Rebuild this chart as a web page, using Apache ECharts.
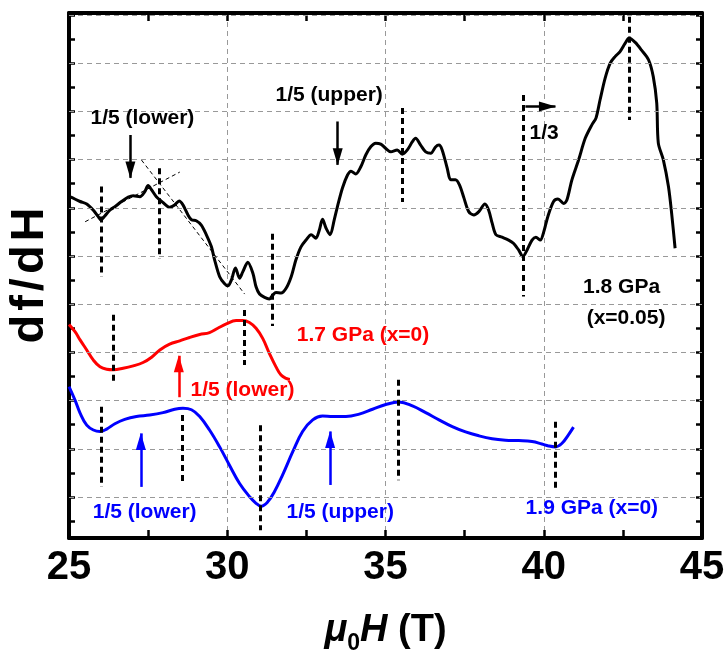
<!DOCTYPE html>
<html><head><meta charset="utf-8">
<script src="https://cdn.jsdelivr.net/npm/echarts@6/dist/echarts.min.js"></script>
<style>html,body{margin:0;padding:0;background:#fff}#c{width:727px;height:653px}</style>
</head><body><div id="c"></div>
<script>
// ---- axes ----
const X_MIN = 25, X_MAX = 45, X_INTERVAL = 5;
const Y_MIN = -0.85, Y_MAX = 10.04;
const Y_GRID = [0,1,2,3,4,5,6,7,8,9,10];
const Y_TICKS = [-0.5,0,0.5,1,1.5,2,2.5,3,3.5,4,4.5,5,5.5,6,6.5,7,7.5,8,8.5,9,9.5,10];

// ---- 1.8 GPa (x=0.05), black ----
const BLACK_X = [25.00,25.06,25.35,25.56,25.77,25.92,26.01,26.13,26.29,26.45,26.66,26.87,27.03,27.24,27.39,27.50,27.61,27.76,27.97,28.18,28.34,28.48,28.60,28.76,28.87,29.02,29.18,29.34,29.50,29.60,29.76,29.91,30.02,30.13,30.26,30.39,30.49,30.65,30.81,30.91,31.02,31.18,31.33,31.44,31.54,31.70,31.86,32.02,32.17,32.33,32.49,32.65,32.80,32.91,33.01,33.12,33.25,33.38,33.48,33.64,33.80,33.91,34.06,34.22,34.38,34.54,34.69,34.85,35.01,35.17,35.37,35.53,35.69,35.85,35.95,36.11,36.27,36.43,36.58,36.69,36.79,36.95,37.06,37.21,37.34,37.48,37.63,37.79,37.95,38.14,38.26,38.37,38.49,38.68,38.89,39.05,39.21,39.34,39.47,39.63,39.75,39.89,40.00,40.13,40.31,40.45,40.63,40.73,40.89,41.10,41.31,41.52,41.65,41.78,41.94,42.10,42.26,42.41,42.57,42.70,42.89,43.09,43.31,43.46,43.57,43.62,43.78,43.94,44.04,44.15];
const BLACK_Y = [6.23,6.22,6.13,6.08,5.95,5.82,5.75,5.83,5.95,6.02,6.13,6.22,6.25,6.23,6.33,6.46,6.37,6.23,6.11,6.01,6.06,6.14,6.06,5.85,5.75,5.73,5.64,5.44,5.19,4.92,4.57,4.43,4.38,4.50,4.75,4.54,4.67,4.87,4.64,4.36,4.21,4.14,4.11,4.19,4.24,4.23,4.33,4.57,4.92,5.19,5.33,5.44,5.37,5.54,5.76,5.58,5.44,5.75,6.02,6.41,6.68,6.76,6.70,6.85,7.10,7.27,7.34,7.32,7.23,7.16,7.20,7.11,7.20,7.37,7.44,7.30,7.16,7.13,7.26,7.30,7.20,6.82,6.58,6.58,6.47,6.20,5.92,5.85,5.92,6.08,5.95,5.68,5.44,5.39,5.33,5.26,5.12,4.99,5.12,5.33,5.39,5.33,5.50,5.82,6.13,6.18,6.09,6.16,6.58,6.99,7.44,7.72,7.86,8.24,8.69,9.00,9.14,9.24,9.41,9.52,9.43,9.27,9.07,8.72,8.17,7.34,6.99,6.44,5.89,5.16];

// ---- 1.7 GPa (x=0), red ----
const RED_X = [25.00,25.19,25.35,25.56,25.77,25.98,26.19,26.40,26.71,27.03,27.34,27.61,27.87,28.18,28.50,28.81,29.13,29.44,29.70,29.97,30.28,30.49,30.70,30.91,31.12,31.33,31.54,31.70,31.86,31.98];
const RED_Y = [3.58,3.43,3.26,3.05,2.84,2.70,2.65,2.64,2.67,2.72,2.79,2.90,3.05,3.17,3.24,3.31,3.37,3.41,3.50,3.59,3.66,3.66,3.62,3.50,3.29,2.98,2.70,2.53,2.46,2.44];

// ---- 1.9 GPa (x=0), blue ----
const BLUE_X = [25.00,25.19,25.35,25.56,25.77,25.98,26.19,26.45,26.76,27.13,27.55,27.97,28.34,28.60,28.87,29.13,29.44,29.76,30.07,30.39,30.70,30.91,31.07,31.28,31.49,31.75,32.07,32.38,32.70,33.01,33.33,33.75,34.17,34.59,35.01,35.43,35.85,36.27,36.69,37.11,37.53,37.95,38.37,38.79,39.21,39.63,39.94,40.15,40.37,40.57,40.78,40.94];
const BLUE_Y = [2.29,2.01,1.74,1.49,1.39,1.36,1.41,1.52,1.61,1.67,1.70,1.75,1.82,1.84,1.81,1.67,1.39,1.04,0.66,0.28,0.01,-0.13,-0.19,-0.10,0.11,0.46,0.94,1.36,1.60,1.68,1.67,1.67,1.72,1.82,1.92,1.97,1.89,1.75,1.60,1.46,1.35,1.27,1.21,1.18,1.17,1.15,1.10,1.06,1.04,1.11,1.29,1.45];

// ---- vertical dashed markers ----
const MARK_X  = [26.03,27.85,31.42,35.53,39.34,42.71,26.40,30.55,26.03,28.58,31.04,35.41,40.37];
const MARK_Y0 = [6.44,6.82,5.46,8.07,8.34,9.96,3.78,3.88,1.87,1.70,1.49,2.43,1.56];
const MARK_Y1 = [4.57,4.95,3.55,6.12,4.16,7.82,2.36,2.74,0.21,0.28,-0.69,0.35,0.15];

// ---- thin dashed guide lines (1/5 lower) ----
const GUIDE_X0 = [25.51,27.29], GUIDE_Y0 = [5.71,6.99];
const GUIDE_X1 = [28.50,30.55], GUIDE_Y1 = [6.74,4.21];

// ---- arrows: start -> tip ----
const ARROW_X0 = [26.94,33.49,39.42,28.47,27.27,33.25];
const ARROW_Y0 = [7.51,7.79,8.10,2.07,0.21,0.25];
const ARROW_X1 = [26.94,33.49,40.37,28.47,27.27,33.25];
const ARROW_Y1 = [6.62,6.89,8.10,2.93,1.32,1.36];
const ARROW_C  = ['#000000','#000000','#000000','#ff0000','#0000ff','#0000ff'];

// ---- text annotations ----
const TEXT_S = ['1/5 (lower)','1/5 (upper)','1/3','1.8 GPa','(x=0.05)','1.7 GPa (x=0)','1/5 (lower)','1/5 (lower)','1/5 (upper)','1.9 GPa (x=0)'];
const TEXT_X = [27.32,33.22,40.01,42.46,42.60,34.29,30.48,27.39,33.57,41.52];
const TEXT_Y = [7.86,8.34,7.55,4.36,3.71,3.36,2.22,-0.31,-0.31,-0.23];
const TEXT_C = ['#000000','#000000','#000000','#000000','#000000','#ff0000','#ff0000','#0000ff','#0000ff','#0000ff'];

const FONT = '"Liberation Sans", Arial, Helvetica, sans-serif';
const zip = (a, b) => a.map((v, i) => [v, b[i]]);

const frame = {show: true, onZero: false, lineStyle: {color: '#000', width: 4}};
const tickStyle = {color: '#000', width: 2.5};

function xAx(pos, main) {
  return {
    type: 'value', min: X_MIN, max: X_MAX, interval: X_INTERVAL, position: pos,
    axisLine: frame,
    axisTick: {show: true, inside: true, length: 8, lineStyle: tickStyle},
    minorTick: {show: true, splitNumber: 2, length: 8, lineStyle: tickStyle},
    splitLine: {show: main, lineStyle: {color: '#999', type: [5, 4], width: 1}},
    axisLabel: {show: main, fontSize: 40, fontWeight: 'bold', color: '#000', fontFamily: FONT, margin: 10},
    name: main ? '{i|μ}{s|0}{i|H}{b| (T)}' : '',
    nameLocation: 'middle', nameGap: 68,
    nameTextStyle: {
      fontFamily: FONT, fontSize: 38, fontWeight: 'bold', color: '#000',
      rich: {
        i: {fontFamily: FONT, fontSize: 38, fontWeight: 'bold', fontStyle: 'italic', color: '#000'},
        s: {fontFamily: FONT, fontSize: 23, fontWeight: 'bold', color: '#000', padding: [26, 0, 0, 0]},
        b: {fontFamily: FONT, fontSize: 38, fontWeight: 'bold', color: '#000'}
      }
    }
  };
}
function yAx(pos, main) {
  return {
    type: 'value', min: Y_MIN, max: Y_MAX, position: pos,
    axisLine: frame,
    axisTick: {show: true, inside: true, length: 6, customValues: Y_TICKS, lineStyle: tickStyle},
    axisLabel: {show: false},
    splitLine: {show: false},
    name: main ? '{a|d}{a|f}{a|/}{a|d}{a|H}' : '',
    nameLocation: 'middle', nameRotate: 90, nameGap: 15,
    nameTextStyle: {fontFamily: FONT, fontSize: 47, fontWeight: 'bold', color: '#000',
      rich: {a: {fontFamily: FONT, fontSize: 47, fontWeight: 'bold', color: '#000', padding: [0, 2, 0, 2]}}}
  };
}

const option = {
  animation: false,
  backgroundColor: '#fff',
  grid: {left: 69, right: 25, top: 13, bottom: 115, containLabel: false, outerBoundsMode: 'none'},
  xAxis: [xAx('bottom', true), xAx('top', false)],
  yAxis: [yAx('left', true), yAx('right', false)],
  series: [
    { // horizontal grid lines
      type: 'line', data: [[X_MIN, Y_MIN]], showSymbol: false, lineStyle: {opacity: 0}, silent: true, z: 1,
      markLine: {silent: true, symbol: 'none', label: {show: false},
        lineStyle: {color: '#999', type: [5, 4], width: 1},
        data: Y_GRID.map(v => ({yAxis: v}))}
    },
    { // guide lines
      type: 'line', data: [], silent: true, z: 2,
      markLine: {silent: true, symbol: 'none', label: {show: false},
        lineStyle: {color: '#000', type: [4, 3], width: 1},
        data: GUIDE_X0.map((x, i) => [{coord: [x, GUIDE_Y0[i]]}, {coord: [GUIDE_X1[i], GUIDE_Y1[i]]}])}
    },
    { // vertical dashed markers
      type: 'line', data: [], silent: true, z: 3,
      markLine: {silent: true, symbol: 'none', label: {show: false},
        lineStyle: {color: '#000', type: [6, 4], width: 3},
        data: MARK_X.map((x, i) => [{coord: [x, MARK_Y0[i]]}, {coord: [x, MARK_Y1[i]]}])}
    },
    {type: 'line', name: '1.8 GPa', data: zip(BLACK_X, BLACK_Y), showSymbol: false, smooth: 0.3,
      lineStyle: {color: '#000', width: 3}, z: 4},
    {type: 'line', name: '1.7 GPa', data: zip(RED_X, RED_Y), showSymbol: false, smooth: 0.4,
      lineStyle: {color: '#ff0000', width: 3}, z: 4},
    {type: 'line', name: '1.9 GPa', data: zip(BLUE_X, BLUE_Y), showSymbol: false, smooth: 0.4,
      lineStyle: {color: '#0000ff', width: 3}, z: 4},
    { // arrows
      type: 'line', data: [], silent: true, z: 5,
      markLine: {silent: true, symbol: 'none', label: {show: false},
        data: ARROW_X0.map((x, i) => [{coord: [x, ARROW_Y0[i]], lineStyle: {color: ARROW_C[i], width: 2.5, type: 'solid'}},
                                      {coord: [ARROW_X1[i], ARROW_Y1[i]]}])},
      markPoint: {silent: true, label: {show: false},
        data: ARROW_X1.map((x, i) => {
          const dx = x - ARROW_X0[i], dy = ARROW_Y1[i] - ARROW_Y0[i];
          const rot = Math.abs(dx) > Math.abs(dy) ? (dx > 0 ? -90 : 90) : (dy > 0 ? 0 : 180);
          const off = rot === 0 ? [0, 8] : rot === 180 ? [0, -8] : rot === -90 ? [-8, 0] : [8, 0];
          return {coord: [x, ARROW_Y1[i]], symbol: 'triangle', symbolSize: [10, 17], symbolRotate: rot,
                  symbolOffset: off, itemStyle: {color: ARROW_C[i]}};
        })}
    },
    { // text labels
      type: 'line', data: [], silent: true, z: 6,
      markPoint: {silent: true, symbol: 'rect', symbolSize: 1, itemStyle: {color: 'rgba(0,0,0,0)'},
        data: TEXT_S.map((t, i) => ({coord: [TEXT_X[i], TEXT_Y[i]], name: t,
          label: {show: true, position: 'inside', formatter: t, color: TEXT_C[i],
                  fontFamily: FONT, fontSize: 21, fontWeight: 'bold'}}))}
    }
  ]
};
const chart = echarts.init(document.getElementById('c'), null, {renderer: 'canvas'});
chart.setOption(option);
</script>
</body></html>
